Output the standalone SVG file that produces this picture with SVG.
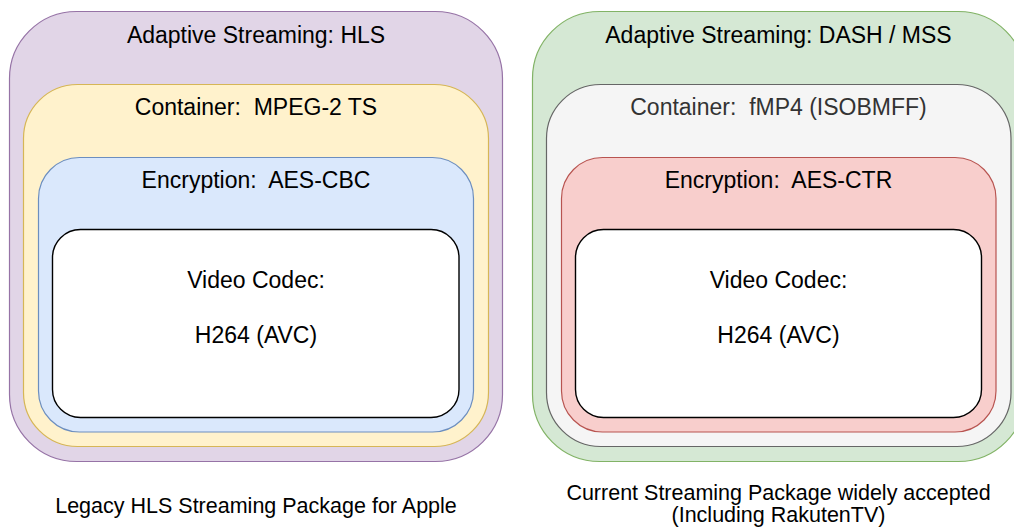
<svg xmlns="http://www.w3.org/2000/svg" width="1014" height="528" viewBox="0 0 1014 528">
  <style>
    text { font-family: "Liberation Sans", Arial, Helvetica, sans-serif; fill: #000000; text-anchor: middle; }
    .lbl { font-size: 23px; }
    .cap { font-size: 21.5px; }
    .muted { fill: #333333; }
    rect { stroke-width: 1.2; }
    .purple { fill: #e1d5e7; stroke: #9673a6; }
    .yellow { fill: #fff2cc; stroke: #d6b656; }
    .blue { fill: #dae8fc; stroke: #6c8ebf; }
    .green { fill: #d5e8d4; stroke: #82b366; }
    .grey { fill: #f5f5f5; stroke: #666666; }
    .red { fill: #f8cecc; stroke: #b85450; }
    .codec { fill: #ffffff; stroke: #000000; stroke-width: 1.4; }
  </style>

  <!-- Legacy HLS package: nested layers -->
  <g id="hls-streaming">
    <rect class="purple" x="9.5" y="11.5" width="493" height="450" rx="67" ry="67"/>
    <text class="lbl" x="256" y="43">Adaptive Streaming: HLS</text>
  </g>
  <g id="hls-container">
    <rect class="yellow" x="23.5" y="84.5" width="465" height="362" rx="54" ry="54"/>
    <text class="lbl" x="256" y="115" xml:space="preserve">Container:  MPEG-2 TS</text>
  </g>
  <g id="hls-encryption">
    <rect class="blue" x="38.5" y="157.5" width="435" height="274.5" rx="41" ry="41"/>
    <text class="lbl" x="256" y="188" xml:space="preserve">Encryption:  AES-CBC</text>
  </g>
  <g id="hls-codec">
    <rect class="codec" x="52.5" y="229.5" width="406.5" height="188" rx="28" ry="28"/>
    <text class="lbl" x="256" y="288">Video Codec:</text>
    <text class="lbl" x="256" y="343">H264 (AVC)</text>
  </g>
  <g id="hls-caption">
    <text class="cap" x="256" y="513">Legacy HLS Streaming Package for Apple</text>
  </g>

  <!-- DASH / MSS package: nested layers -->
  <g id="dash-streaming">
    <rect class="green" x="532.5" y="11.5" width="493" height="450" rx="67" ry="67"/>
    <text class="lbl" x="778.5" y="43">Adaptive Streaming: DASH / MSS</text>
  </g>
  <g id="dash-container">
    <rect class="grey" x="546.5" y="84.5" width="464.5" height="362" rx="54" ry="54"/>
    <text class="lbl muted" x="778.5" y="115" xml:space="preserve">Container:  fMP4 (ISOBMFF)</text>
  </g>
  <g id="dash-encryption">
    <rect class="red" x="561.5" y="157.5" width="434.5" height="274.5" rx="41" ry="41"/>
    <text class="lbl" x="778.5" y="188" xml:space="preserve">Encryption:  AES-CTR</text>
  </g>
  <g id="dash-codec">
    <rect class="codec" x="575.5" y="229.5" width="406" height="188" rx="28" ry="28"/>
    <text class="lbl" x="778.5" y="288">Video Codec:</text>
    <text class="lbl" x="778.5" y="343">H264 (AVC)</text>
  </g>
  <g id="dash-caption">
    <text class="cap" x="778.5" y="500">Current Streaming Package widely accepted</text>
    <text class="cap" x="778.5" y="522">(Including RakutenTV)</text>
  </g>

  <!-- no connectors in this diagram -->
  <g id="connectors"/>
</svg>
